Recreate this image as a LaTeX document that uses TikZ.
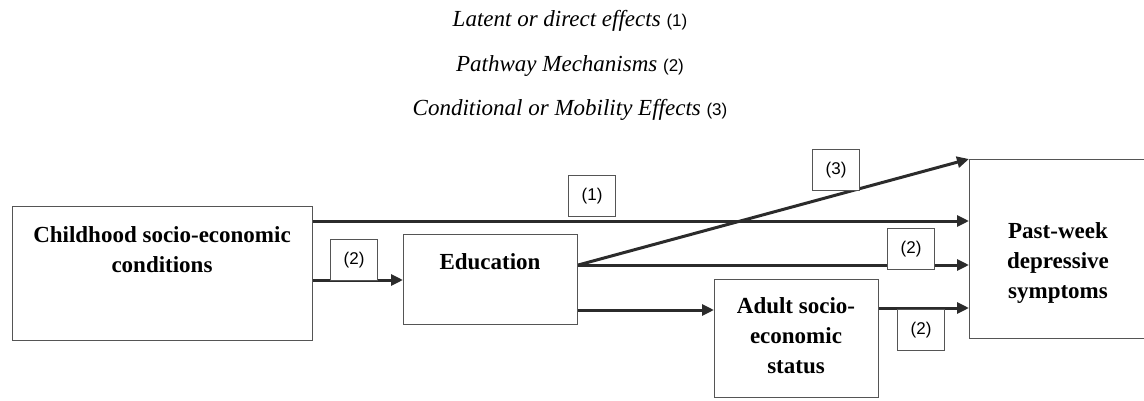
\documentclass[tikz,border=0pt]{standalone}
\usepackage{fontspec}
\setmainfont{Liberation Serif}
\newfontfamily\lsans{Liberation Sans}
\usetikzlibrary{arrows.meta}
\definecolor{ln}{HTML}{2B2B2B}
\definecolor{bd}{HTML}{555555}
\begin{document}
\begin{tikzpicture}[x=1pt,y=-1pt,
  box/.style={draw=bd, line width=1.2pt, inner sep=0pt, anchor=north west},
  lbl/.style={draw=bd, line width=1.1pt, fill=white, inner sep=0pt, anchor=north west,
    minimum width=47pt, minimum height=41pt, font=\lsans\fontsize{17}{20}\selectfont},
  arr/.style={draw=ln, line width=3pt, -{Triangle[length=12pt,width=11pt]}},
  btxt/.style={font=\bfseries\fontsize{23}{30}\selectfont, align=center, anchor=base, inner sep=0pt},
  ttl/.style={font=\itshape\fontsize{23}{28}\selectfont, anchor=base, inner sep=0pt}
]
\useasboundingbox (0,0) rectangle (1144,401);

% titles
\node[ttl] (t1) at (570,27) {Latent or direct effects {\upshape\lsans\fontsize{17}{20}\selectfont (1)}};
\node[ttl] (t2) at (570,72) {Pathway Mechanisms {\upshape\lsans\fontsize{17}{20}\selectfont (2)}};
\node[ttl] (t3) at (570,116) {Conditional or Mobility Effects {\upshape\lsans\fontsize{17}{20}\selectfont (3)}};

% boxes
\node[box, minimum width=300pt, minimum height=134pt] (child) at (12,206) {};
\node[box, minimum width=174pt, minimum height=90pt] (edu) at (403,234) {};
\node[box, minimum width=164pt, minimum height=118pt] (adult) at (714,279) {};
\node[box, minimum width=200pt, minimum height=179pt] (pw) at (969,159) {};

% box texts (anchor base = baseline of last line)
\node[btxt] (childT) at (162,272) {Childhood socio-economic\\conditions};
\node[btxt] (eduT) at (490,269) {Education};
\node[btxt] (adultT) at (796,373) {Adult socio-\\economic\\status};
\node[btxt] (pwT) at (1058,298) {Past-week\\depressive\\symptoms};

% connectors
\coordinate (a1) at ([yshift=-15pt]child.north east);
\coordinate (a2) at ([yshift=-74pt]child.north east);
\coordinate (a3) at ([yshift=-31pt]edu.north east);
\coordinate (a5) at ([yshift=-76pt]edu.north east);
\coordinate (a6) at ([yshift=-29pt]adult.north east);

\draw[arr] (a1) -- (a1 -| pw.west);
\draw[arr] (a2) -- (a2 -| edu.west);
\draw[arr] (a3) -- (pw.north west);
\draw[arr] (a3) -- (a3 -| pw.west);
\draw[arr] (a5) -- (a5 -| adult.west);
\draw[arr] (a6) -- (a6 -| pw.west);

% labels
\node[lbl] (l1) at (568,175) {(1)};
\node[lbl] (l2a) at (330,239) {(2)};
\node[lbl] (l2b) at (887,228) {(2)};
\node[lbl] (l3) at (812,149) {(3)};
\node[lbl] (l2c) at (897,309) {(2)};
\end{tikzpicture}
\end{document}
